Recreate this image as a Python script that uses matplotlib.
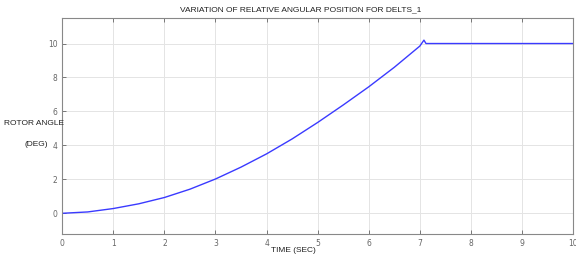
import matplotlib
matplotlib.use("Agg")
import matplotlib.pyplot as plt

# time (sec) and rotor angle (deg)
time_sec = [0, 0.5, 1, 1.5, 2, 2.5, 3, 3.5, 4, 4.5, 5, 5.5, 6, 6.5, 7, 7.08, 7.12, 10]
angle_deg = [0, 0.08, 0.28, 0.56, 0.93, 1.42, 2.02, 2.72, 3.5, 4.38, 5.35, 6.38, 7.45, 8.6, 9.85, 10.2, 10.0, 10.0]

x_ticks = list(range(0, 11))
y_ticks = [0, 2, 4, 6, 8, 10]

label_font = ["Liberation Sans", "DejaVu Sans"]

fig = plt.figure(figsize=(5.76, 2.58), dpi=100)
ax = fig.add_axes([0.108, 0.093, 0.887, 0.837])

ax.plot(time_sec, angle_deg, color="#3a3aff", linewidth=1.0)

ax.set_xlim(0, 10)
ax.set_ylim(-1.22, 11.5)
ax.set_xticks(x_ticks)
ax.set_yticks(y_ticks)
ax.grid(True, color="#e4e4e4", linewidth=0.7)
ax.tick_params(direction="in", length=3, labelsize=5.5, colors="#666666",
               top=True, right=False, width=0.6)
for s in ax.spines.values():
    s.set_color("#888888")
    s.set_linewidth(0.8)

fig.text(0.522, 0.961, "VARIATION OF RELATIVE ANGULAR POSITION FOR DELTS_1",
         ha="center", va="center", fontsize=6.0, family=label_font, color="#222222")
fig.text(0.510, 0.029, "TIME (SEC)", ha="center", va="center",
         fontsize=6.0, family=label_font, color="#222222")
fig.text(0.059, 0.523, "ROTOR ANGLE", ha="center", va="center",
         fontsize=6.0, family=label_font, color="#222222")
fig.text(0.0625, 0.438, "(DEG)", ha="center", va="center",
         fontsize=6.0, family=label_font, color="#222222")

plt.savefig("out.png", dpi=100)
